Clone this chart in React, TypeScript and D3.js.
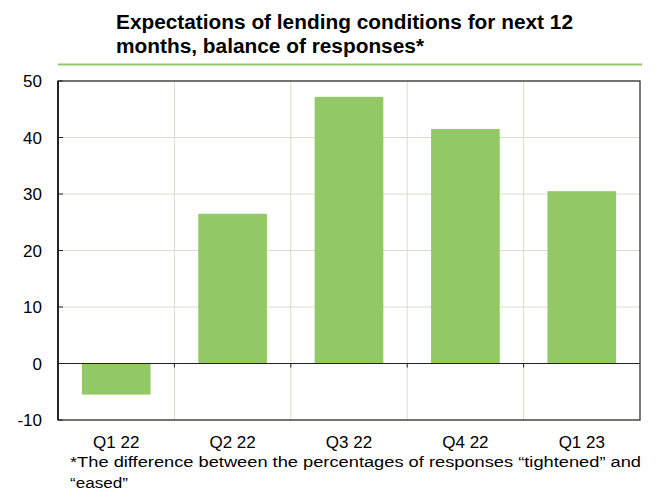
import React from "react";
import { scaleLinear, scaleBand } from "d3";

const categories = ["Q1 22", "Q2 22", "Q3 22", "Q4 22", "Q1 23"];
const balance = [-5.5, 26.5, 47.2, 41.5, 30.5];
const yTicks = [-10, 0, 10, 20, 30, 40, 50];

const W = 659;
const H = 494;
const left = 58;
const right = 640;
const top = 81;
const bottom = 420;
const barColor = "#92c966";
const gridColor = "#dcdccc";
const font = "'Liberation Sans', Arial, sans-serif";

const App = () => {
  const x = scaleBand().domain(categories).range([left, right]).paddingInner(0).paddingOuter(0);
  const y = scaleLinear().domain([-10, 50]).range([bottom, top]);
  const bw = x.bandwidth();
  const barW = bw * 0.59;

  return (
    <svg width={W} height={H} style={{ position: "absolute", left: 0, top: 0 }} fontFamily={font}>
      <text x={116} y={29} fontSize={19.5} fontWeight="bold" fill="#000" textLength={457} lengthAdjust="spacingAndGlyphs">
        Expectations of lending conditions for next 12
      </text>
      <text x={116} y={53} fontSize={19.5} fontWeight="bold" fill="#000" textLength={308} lengthAdjust="spacingAndGlyphs">
        months, balance of responses*
      </text>
      <line x1={left} x2={642} y1={64.5} y2={64.5} stroke={barColor} strokeWidth={2} />

      {/* grid */}
      {yTicks.map((t) => (
        <line key={"h" + t} x1={left} x2={right} y1={y(t)} y2={y(t)} stroke={gridColor} strokeWidth={1} />
      ))}
      {categories.slice(1).map((c) => (
        <line key={"v" + c} x1={x(c)} x2={x(c)} y1={top} y2={bottom} stroke={gridColor} strokeWidth={1} />
      ))}

      {/* bars */}
      {categories.map((c, i) => {
        const v = balance[i];
        const cx = (x(c) as number) + bw / 2;
        return (
          <rect
            key={c}
            x={cx - barW / 2}
            y={Math.min(y(v), y(0))}
            width={barW}
            height={Math.abs(y(v) - y(0))}
            fill={barColor}
          />
        );
      })}

      {/* zero line + ticks */}
      <line x1={left} x2={right} y1={y(0)} y2={y(0)} stroke="#222" strokeWidth={1} />
      {categories.slice(1).map((c) => (
        <line key={"t" + c} x1={x(c)} x2={x(c)} y1={y(0)} y2={y(0) + 4} stroke="#222" strokeWidth={1} />
      ))}

      {/* frame */}
      <rect x={left} y={top} width={right - left} height={bottom - top} fill="none" stroke="#333" strokeWidth={1.3} />
      <line x1={left} x2={left} y1={top} y2={bottom} stroke="#111" strokeWidth={1.6} />
      {yTicks.map((t) => (
        <line key={"yt" + t} x1={left} x2={left + 5} y1={y(t)} y2={y(t)} stroke="#222" strokeWidth={1} />
      ))}

      {/* y labels */}
      {yTicks.map((t) => (
        <text key={"yl" + t} x={42} y={y(t) + 6} fontSize={17} textAnchor="end" fill="#000">
          {t}
        </text>
      ))}

      {/* x labels */}
      {categories.map((c) => (
        <text key={"xl" + c} x={(x(c) as number) + bw / 2} y={448} fontSize={17} textAnchor="middle" fill="#000">
          {c}
        </text>
      ))}

      <text x={70} y={467} fontSize={15.5} fill="#000" textLength={571} lengthAdjust="spacingAndGlyphs">
        *The difference between the percentages of responses “tightened” and
      </text>
      <text x={70} y={488} fontSize={15.5} fill="#000" textLength={58} lengthAdjust="spacingAndGlyphs">
        “eased”
      </text>
    </svg>
  );
};

export default App;
